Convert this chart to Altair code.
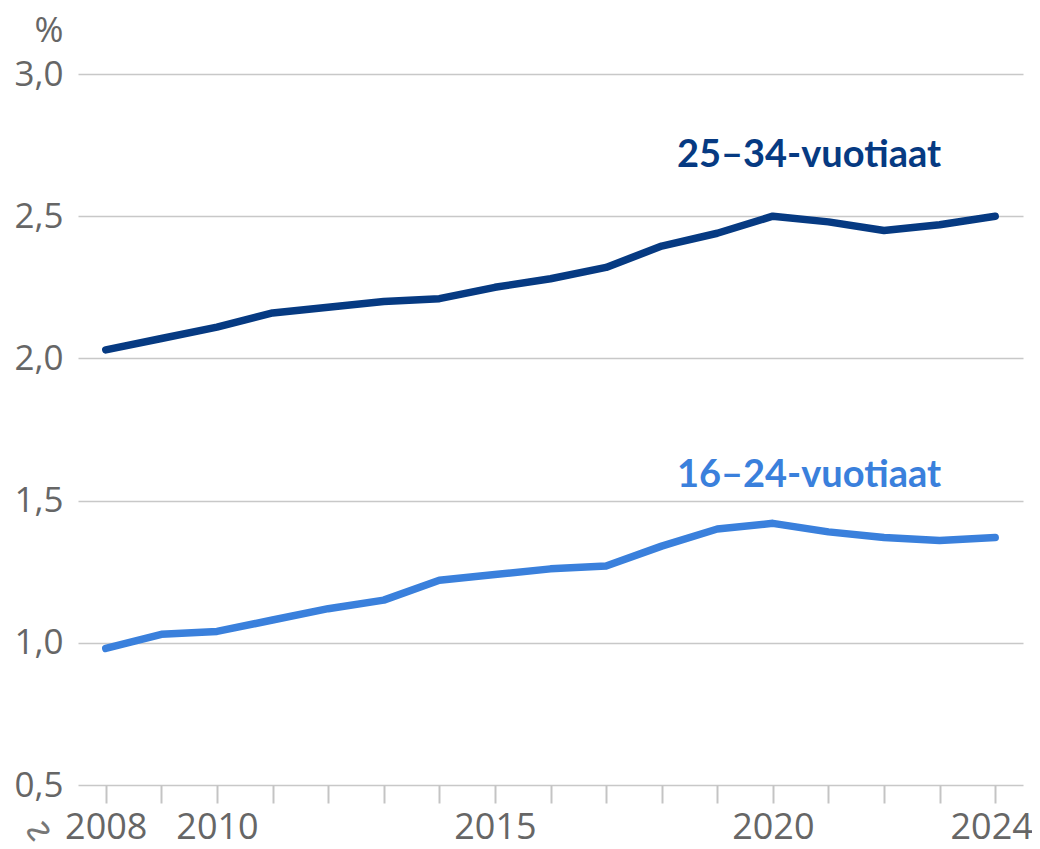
import altair as alt
import pandas as pd

years = list(range(2008, 2025))
age_25_34 = [2.03, 2.07, 2.11, 2.16, 2.18, 2.20, 2.21, 2.25, 2.28, 2.32, 2.395, 2.44, 2.50, 2.48, 2.45, 2.47, 2.50]
age_16_24 = [0.98, 1.03, 1.04, 1.08, 1.12, 1.15, 1.22, 1.24, 1.26, 1.27, 1.34, 1.40, 1.42, 1.39, 1.37, 1.36, 1.37]
series_names = ["25–34-vuotiaat", "16–24-vuotiaat"]
series_colors = ["#063a82", "#3a80dc"]
label_years = [2020.65, 2020.65]
label_values = [2.71, 1.585]
shown_years = [2008, 2010, 2015, 2020, 2024]
y_ticks = [0.5, 1.0, 1.5, 2.0, 2.5, 3.0]

df = pd.DataFrame({
    "year": years * 2,
    "value": age_25_34 + age_16_24,
    "series": [series_names[0]] * len(years) + [series_names[1]] * len(years),
})
labels = pd.DataFrame({"year": label_years, "value": label_values, "series": series_names})
brk = pd.DataFrame({"year": [2007.5], "value": [0.5]})

color_scale = alt.Scale(domain=series_names, range=series_colors)
x_scale = alt.Scale(domain=[2007.5, 2024.5], nice=False, zero=False)
y_scale = alt.Scale(domain=[0.5, 3.0], nice=False, zero=False)

shown_expr = "indexof([" + ",".join(str(y) for y in shown_years) + "], datum.value) >= 0 ? datum.label : ''"

x_enc = alt.X(
    "year:Q", scale=x_scale,
    axis=alt.Axis(
        values=years, format="d", labelExpr=shown_expr, title=None,
        grid=False, domain=False, ticks=True, tickSize=18, tickColor="#c4c4c4", tickWidth=2,
        labelFont="Open Sans", labelFontSize=36, labelColor="#666666", labelPadding=7,
        labelOffset={"condition": {"test": "datum.value == 2024", "value": -4}, "value": 0},
        labelFlush=False, labelOverlap=False,
    ),
)
y_enc = alt.Y(
    "value:Q", scale=y_scale,
    axis=alt.Axis(
        values=y_ticks, labelExpr="replace(format(datum.value, '.1f'), '.', ',')",
        title="%", titleAngle=0, titleAlign="right", titleBaseline="middle",
        titleX=-15, titleY=-44, titleFont="Open Sans", titleFontSize=35,
        titleFontWeight="normal", titleColor="#666666",
        grid=True, gridColor="#c8c8c8", gridWidth=1.6, domain=False, ticks=False,
        labelFont="Open Sans", labelFontSize=35, labelColor="#666666", labelPadding=15,
    ),
)

lines = alt.Chart(df).mark_line(strokeWidth=7.5, strokeCap="round", strokeJoin="round").encode(
    x=x_enc, y=y_enc,
    color=alt.Color("series:N", scale=color_scale, legend=None),
)

texts = alt.Chart(labels).mark_text(
    font="Lato", fontSize=38, fontWeight="bold", align="center", baseline="middle"
).encode(
    x=alt.X("year:Q", scale=x_scale),
    y=alt.Y("value:Q", scale=y_scale),
    text="series:N",
    color=alt.Color("series:N", scale=color_scale, legend=None),
)

# axis-break glyph; dx/dy are applied in the rotated frame
brk_mark = alt.Chart(brk).mark_text(
    text="∿", font="DejaVu Sans", fontSize=36, angle=300, color="#777777",
    dx=-60, dy=-11, align="center", baseline="middle",
).encode(
    x=alt.X("year:Q", scale=x_scale),
    y=alt.Y("value:Q", scale=y_scale),
)

chart = alt.layer(lines, texts, brk_mark).properties(
    width=945, height=711,
    autosize=alt.AutoSizeParams(type="none"),
    padding={"left": 70, "top": 66, "right": 9, "bottom": 64},
).configure_view(stroke=None)

chart.save("out.html", embed_options={"renderer": "svg", "actions": False})
